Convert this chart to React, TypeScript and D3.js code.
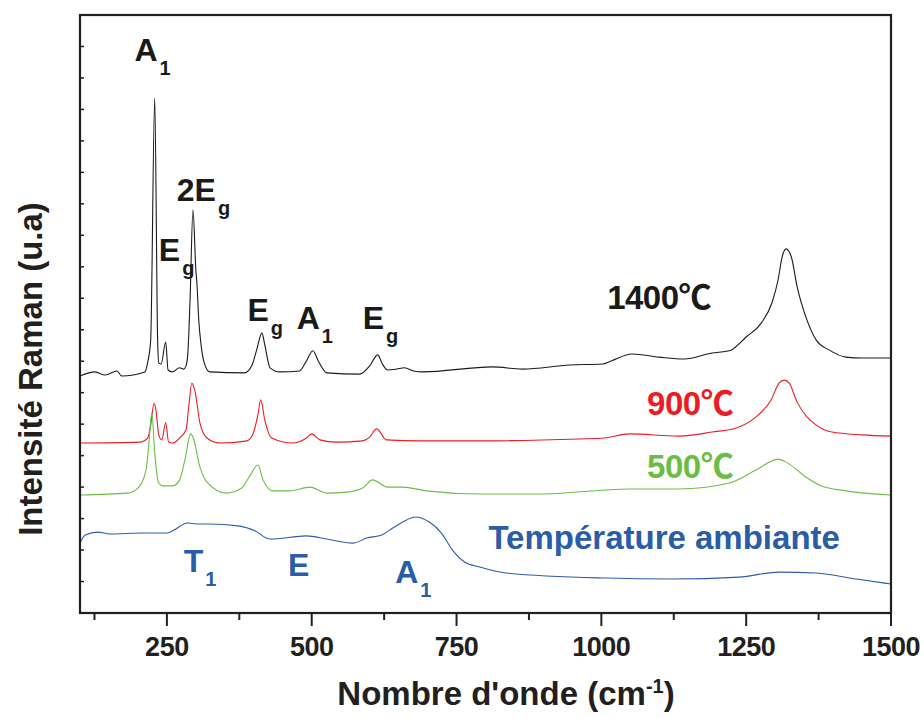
import React from "react";
import * as d3 from "d3";

// ---------- data (wavenumber cm-1, intensity a.u. with vertical offsets) ----------
const spectrum1400: [number, number][] = [
  [100, 7.53], [126, 7.66], [143, 7.56], [164, 7.69], [172, 7.53], [212, 7.66],
  [217, 7.98], [222, 8.67], [229, 16.36], [234, 8.67], [236, 7.94], [240, 7.91],
  [248, 8.61], [252, 7.72], [259, 7.66], [272, 7.79], [279, 7.75], [283, 7.85],
  [286, 8.2], [290, 9.95], [295, 12.81], [300, 10.9], [302, 10.42], [305, 9.31],
  [309, 8.52], [314, 7.98], [324, 7.66], [384, 7.63], [397, 7.88], [405, 8.36],
  [414, 8.9], [419, 8.52], [428, 7.79], [445, 7.66], [479, 7.69], [490, 7.98],
  [502, 8.33], [512, 7.98], [526, 7.63], [583, 7.59], [600, 7.85], [614, 8.2],
  [622, 7.91], [631, 7.72], [647, 7.75], [660, 7.79], [676, 7.69], [691, 7.66],
  [812, 7.82], [864, 7.75], [945, 7.88], [1002, 7.91], [1017, 8.01], [1053, 8.23],
  [1100, 8.13], [1143, 8.07], [1191, 8.26], [1221, 8.33], [1250, 8.77], [1276, 9.21],
  [1295, 9.88], [1305, 10.58], [1312, 11.31], [1319, 11.57], [1328, 11.31], [1338, 10.36],
  [1353, 9.41], [1371, 8.67], [1393, 8.36], [1422, 8.13], [1450, 8.1], [1500, 8.1],
];

const spectrum900: [number, number][] = [
  [100, 5.4], [203, 5.43], [217, 5.56], [222, 5.97], [228, 6.67], [231, 6.45],
  [236, 5.66], [241, 5.5], [248, 6.04], [253, 5.43], [260, 5.4], [272, 5.56],
  [283, 5.82], [288, 6.61], [293, 7.31], [298, 7.09], [307, 6.04], [319, 5.56],
  [341, 5.4], [388, 5.47], [398, 5.66], [407, 6.29], [412, 6.77], [419, 6.13],
  [431, 5.56], [467, 5.4], [491, 5.56], [500, 5.69], [514, 5.5], [543, 5.43],
  [588, 5.47], [600, 5.59], [612, 5.85], [629, 5.5], [686, 5.47], [790, 5.47],
  [962, 5.53], [1005, 5.56], [1048, 5.69], [1134, 5.62], [1191, 5.75], [1233, 5.88],
  [1267, 6.23], [1293, 6.77], [1307, 7.31], [1316, 7.4], [1324, 7.31], [1338, 6.7],
  [1371, 5.97], [1398, 5.75], [1450, 5.66], [1500, 5.62],
];

const spectrum500: [number, number][] = [
  [100, 3.75], [181, 3.81], [200, 3.97], [214, 4.54], [219, 5.4], [224, 6.36],
  [229, 5.08], [236, 4.13], [243, 4.04], [260, 4.04], [272, 4.23], [281, 4.86],
  [291, 5.69], [295, 5.59], [307, 4.64], [319, 4.16], [353, 3.81], [379, 3.97],
  [393, 4.35], [407, 4.7], [416, 4.23], [433, 3.88], [462, 3.88], [497, 4.0],
  [526, 3.81], [560, 3.84], [588, 3.97], [605, 4.23], [631, 4.0], [657, 4.0],
  [698, 3.88], [790, 3.78], [893, 3.78], [1048, 3.94], [1134, 3.94], [1221, 4.13],
  [1267, 4.54], [1305, 4.89], [1321, 4.77], [1353, 4.32], [1376, 4.07], [1422, 3.88],
  [1500, 3.75],
];

const spectrumAmbient: [number, number][] = [
  [100, 2.22], [109, 2.48], [131, 2.57], [152, 2.51], [209, 2.54], [250, 2.54],
  [260, 2.61], [286, 2.86], [302, 2.83], [324, 2.83], [376, 2.76], [402, 2.61],
  [428, 2.35], [491, 2.45], [526, 2.35], [571, 2.22], [595, 2.38], [621, 2.48],
  [640, 2.7], [657, 2.89], [679, 3.05], [703, 2.89], [724, 2.54], [743, 2.0],
  [764, 1.62], [790, 1.46], [836, 1.27], [1009, 1.11], [1122, 1.08], [1238, 1.14],
  [1307, 1.3], [1371, 1.27], [1440, 1.08], [1500, 0.92],
];

const xMajorTicks = [250, 500, 750, 1000, 1250, 1500];
const xMinorTicks = [125, 375, 625, 875, 1125, 1375];
const yMinorTicks = d3.range(1, 19);

const seriesColors = ["#1a1a1a", "#ec1c24", "#6cbd45", "#2a5ca8"];

// peak annotations: [wavenumber, intensity, main text, subscript, colour]
const peakLabels: [number, number, string, string, string][] = [
  [194, 17.55, "A", "1", "#1a1a1a"],
  [267, 13.10, "2E", "g", "#1a1a1a"],
  [236, 11.19, "E", "g", "#1a1a1a"],
  [389, 9.29, "E", "g", "#1a1a1a"],
  [474, 9.03, "A", "1", "#1a1a1a"],
  [588, 9.03, "E", "g", "#1a1a1a"],
  [279, 1.30, "T", "1", "#2a5ca8"],
  [459, 1.18, "E", "", "#2a5ca8"],
  [644, 0.95, "A", "1", "#2a5ca8"],
];

// series name labels: [wavenumber, intensity, text, colour]
const seriesLabels: [number, number, string, string][] = [
  [1010, 9.66, "1400℃", "#1a1a1a"],
  [1079, 6.29, "900℃", "#ec1c24"],
  [1079, 4.29, "500℃", "#6cbd45"],
  [805, 2.03, "Température ambiante", "#2a5ca8"],
];

const FONT = "'Liberation Sans', Arial, Helvetica, 'Noto Sans CJK SC', sans-serif";

export default function App() {
  const x = d3.scaleLinear().domain([100, 1500]).range([80, 891]);
  const y = d3.scaleLinear().domain([0, 19]).range([613, 15]);
  const line = d3
    .line<[number, number]>()
    .x((d) => x(d[0]))
    .y((d) => y(d[1]))
    .curve(d3.curveMonotoneX);

  const series = [spectrum1400, spectrum900, spectrum500, spectrumAmbient];

  return (
    <svg
      width={924}
      height={718}
      style={{ position: "absolute", left: 0, top: 0, background: "#fff" }}
      fontFamily={FONT}
    >
      <rect x={0} y={0} width={924} height={718} fill="#fff" />
      {series.map((s, i) => (
        <path key={i} d={line(s) || ""} fill="none" stroke={seriesColors[i]} strokeWidth={1.1} strokeLinejoin="round" />
      ))}

      {/* frame */}
      <rect x={x(100)} y={y(19)} width={x(1500) - x(100)} height={y(0) - y(19)} fill="none" stroke="#231f20" strokeWidth={2.2} />

      {/* y minor ticks (inside) */}
      {yMinorTicks.map((t) => (
        <line key={t} x1={x(100)} x2={x(100) + 4} y1={y(t)} y2={y(t)} stroke="#231f20" strokeWidth={1.5} />
      ))}

      {/* x ticks */}
      {xMajorTicks.map((t) => (
        <g key={t}>
          <line x1={x(t)} x2={x(t)} y1={y(0)} y2={y(0) + 13} stroke="#231f20" strokeWidth={2} />
          <text x={x(t)} y={656} textAnchor="middle" fontSize={27} fontWeight="bold" fill="#231f20" letterSpacing={-0.5}>
            {t}
          </text>
        </g>
      ))}
      {xMinorTicks.map((t) => (
        <line key={t} x1={x(t)} x2={x(t)} y1={y(0)} y2={y(0) + 7} stroke="#231f20" strokeWidth={2} />
      ))}

      {/* axis titles */}
      <text x={506} y={705} textAnchor="middle" fontSize={33} fontWeight="bold" fill="#231f20">
        Nombre d'onde (cm<tspan fontSize={20} dy={-12}>-1</tspan><tspan dy={12}>)</tspan>
      </text>
      <text
        transform="translate(42,369) rotate(-90)"
        textAnchor="middle"
        fontSize={33}
        fontWeight="bold"
        fill="#231f20"
      >
        Intensité Raman (u.a)
      </text>

      {/* peak labels */}
      {peakLabels.map(([w, v, main, sub, col], i) => (
        <text key={i} x={x(w)} y={y(v)} fontSize={32} fontWeight="bold" fill={col}>
          {main}
          {sub && (
            <tspan fontSize={20} dx={2} dy={14}>
              {sub}
            </tspan>
          )}
        </text>
      ))}

      {/* series labels */}
      {seriesLabels.map(([w, v, txt, col], i) => (
        <text key={i} x={x(w)} y={y(v)} fontSize={33} fontWeight="bold" fill={col} letterSpacing={i === 3 ? 0 : -0.5}>
          {txt}
        </text>
      ))}
    </svg>
  );
}
